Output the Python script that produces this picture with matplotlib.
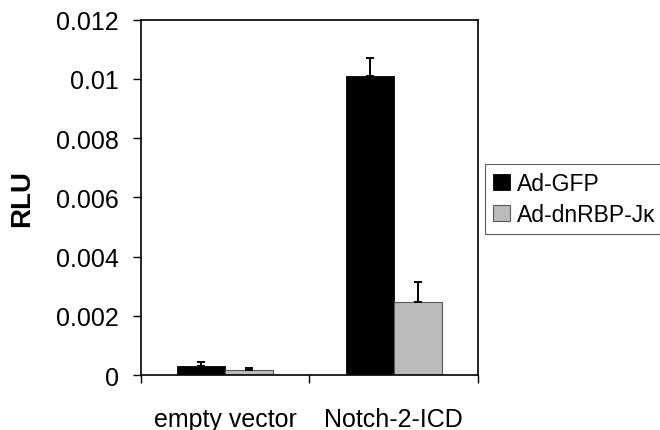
import matplotlib
matplotlib.use("Agg")
import matplotlib.pyplot as plt
import numpy as np

plt.rcParams['font.family'] = ['Liberation Sans', 'DejaVu Sans']

categories = ["empty vector", "Notch-2-ICD"]
series_names = ["Ad-GFP", "Ad-dnRBP-J\u03ba"]
gfp_values = [0.00031, 0.0101]
gfp_errors = [0.00012, 0.0006]
dn_values = [0.00017, 0.00245]
dn_errors = [0.00007, 0.00068]
yticks = [0, 0.002, 0.004, 0.006, 0.008, 0.01, 0.012]
ytick_labels = ["0", "0.002", "0.004", "0.006", "0.008", "0.01", "0.012"]

fig = plt.figure(figsize=(6.6, 4.31), dpi=100)
ax = fig.add_axes([0.2136, 0.1276, 0.5106, 0.8248])

x = np.arange(len(categories))
w = 0.285
ekw = dict(ecolor='black', elinewidth=1.4, capthick=1.4)
ax.bar(x - w/2, gfp_values, w, color='black', edgecolor='black', linewidth=0.6,
       yerr=[np.zeros(len(gfp_errors)), gfp_errors], capsize=3,
       error_kw=ekw, label=series_names[0])
ax.bar(x + w/2, dn_values, w, color='#b9bbbd', edgecolor='#5a5a5a', linewidth=0.8,
       yerr=[np.zeros(len(dn_errors)), dn_errors], capsize=3,
       error_kw=ekw, label=series_names[1])

ax.set_xlim(-0.5, 1.5)
ax.set_ylim(0, 0.012)
ax.set_yticks(yticks)
ax.set_yticklabels(ytick_labels, fontsize=18)
ax.set_xticks([-0.5, 0.5, 1.5])
ax.set_xticklabels([])
ax.set_xticks(x, minor=True)
ax.set_xticklabels(categories, minor=True, fontsize=18)
ax.tick_params(axis='x', which='minor', length=0, pad=23)
ax.tick_params(axis='x', which='major', length=6, width=1, direction='out')
ax.tick_params(axis='y', length=6, width=1, direction='out', pad=10)
for s in ax.spines.values():
    s.set_linewidth(1.2)
ax.set_ylabel("RLU", fontsize=20, fontweight='bold')
ax.yaxis.set_label_coords(-106 / 337, 0.5)

leg = fig.legend(loc='upper left', bbox_to_anchor=(485/660, 1 - 165/431), fontsize=16.5,
                 frameon=True, fancybox=False, edgecolor='#333333', handlelength=0.75,
                 handleheight=0.75, handletextpad=0.3, borderpad=0.35, labelspacing=0.35,
                 borderaxespad=0)
leg.get_frame().set_linewidth(0.8)

fig.savefig("out.png", dpi=100)
